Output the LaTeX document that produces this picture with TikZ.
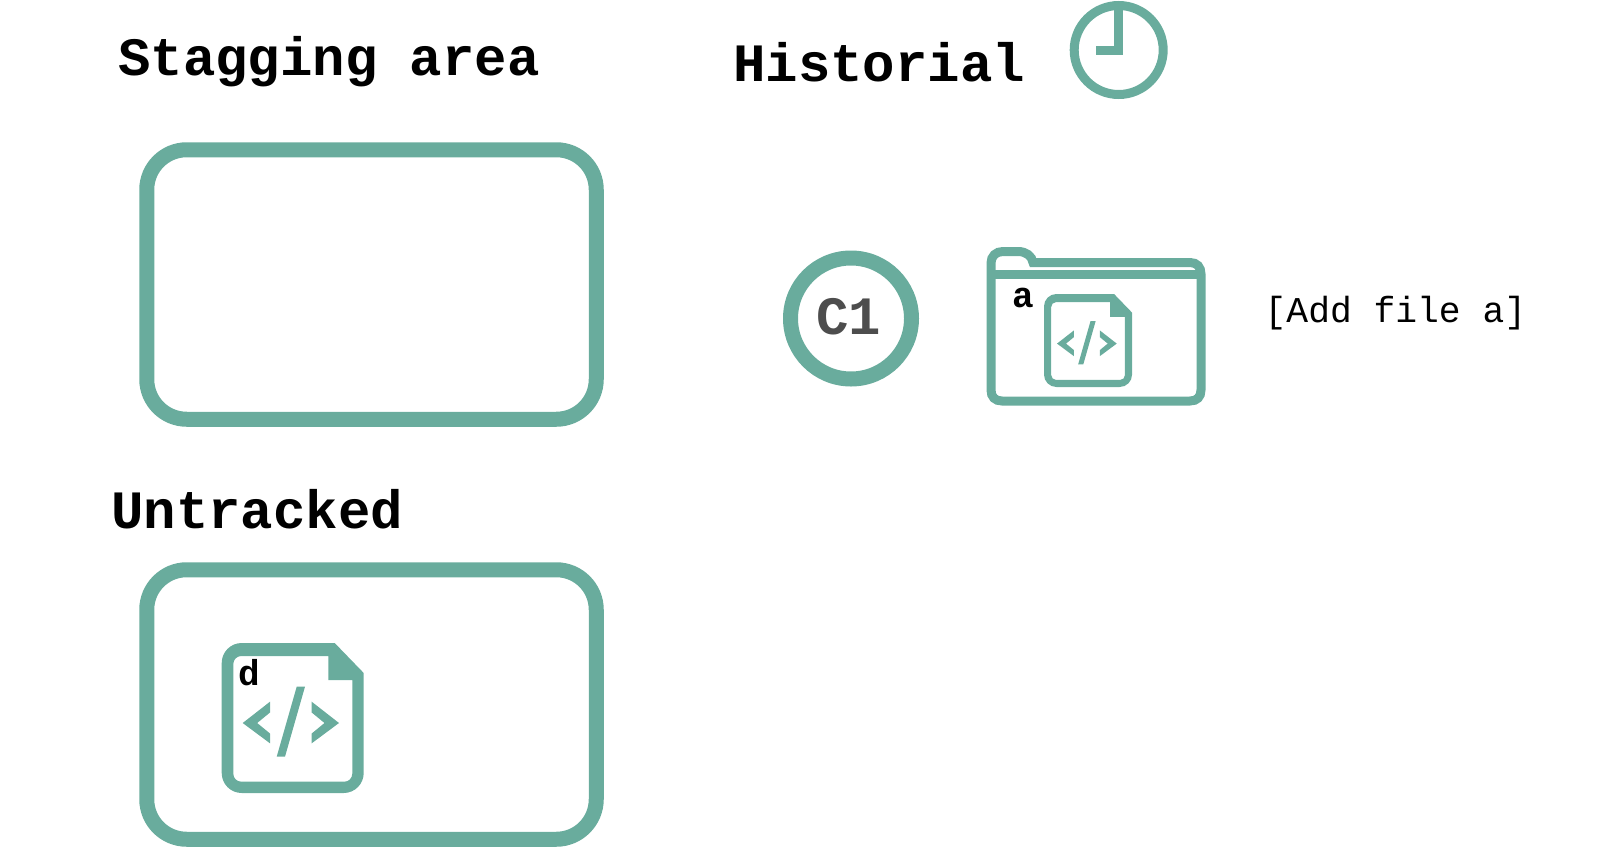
\documentclass[tikz,border=0pt]{standalone}
\usepackage{fontspec}
\setmonofont{Liberation Mono}
\usepackage{xcolor}
\usetikzlibrary{positioning}
\definecolor{gitgreen}{HTML}{69AC9D}
\definecolor{commitgray}{HTML}{4D4D4D}

\tikzset{
  areabox/.style={draw=gitgreen, line width=15pt, rounded corners=40pt, minimum width=449.5pt, minimum height=269.5pt, inner sep=0pt},
  titletext/.style={anchor=base west, inner sep=0pt, font=\fontsize{54}{54}\ttfamily\bfseries},
  filelabel/.style={anchor=base west, inner sep=0pt, font=\fontsize{36}{36}\ttfamily\bfseries},
  pics/codefile/.style={code={
    % outline with the folded corner, the hole cut by even odd
    \fill[gitgreen, even odd rule, rounded corners=#1*20pt]
      (0,0) [sharp corners] -- (113,0) -- (142,30) [rounded corners=#1*20pt] -- (142,150) -- (0,150) -- cycle
      (11.6,13) [sharp corners] -- (106.6,13) -- (106.6,37) -- (130.6,37) [rounded corners=#1*8pt] -- (130.6,138.7) -- (11.6,138.7) -- cycle;
    % the code mark
    \fill[gitgreen] (48.3,58.7) -- (21,80) -- (48.3,100.3) -- (48.3,90.5) -- (35.5,80) -- (48.3,69.5) -- cycle;
    \fill[gitgreen] (75,43.7) -- (83.3,43.7) -- (63.3,113.7) -- (55,113.7) -- cycle;
    \fill[gitgreen] (90,58.7) -- (117.3,80) -- (90,100.3) -- (90,90.5) -- (102.8,80) -- (90,69.5) -- cycle;
  }}
}

\begin{document}
\begin{tikzpicture}[x=1pt, y=-1pt]
  \useasboundingbox (0,0) rectangle (1623,849);

  % left column
  \node[titletext] (staggingtitle) at (118,75.5) {Stagging area};
  \node[areabox] (staggingbox) at (371.5,284.5) {};
  \node[titletext] (untrackedtitle) at (111,528) {Untracked};
  \node[areabox] (untrackedbox) at (371.5,704.5) {};
  \pic[scale=1] at (221.7,643) {codefile={1}};
  \node[filelabel] (filed) at (238,685) {d};

  % history
  \node[titletext] (historialtitle) at (733,81) {Historial};
  \node[circle, draw=gitgreen, line width=9pt, minimum size=89pt, inner sep=0pt] (clockface) at (1118.7,50) {};
  \coordinate (clocktop) at (1118.5,8);
  \coordinate (clockmid) at (1118.5,50.5);
  \coordinate (clockleft) at (1096,50.5);
  \draw[gitgreen, line width=9pt, miter limit=4] (clocktop) -- (clockmid) -- (clockleft);

  \node[circle, draw=gitgreen, line width=15pt, minimum size=121pt, inner sep=0pt] (commit) at (851,318.5) {};
  \node[inner sep=0pt, text=commitgray, font=\fontsize{54}{54}\ttfamily\bfseries] (commitname) at (848.5,317) {C1};

  % folder
  \draw[gitgreen, line width=9pt]
    (991,274.5) -- (991,263) .. controls (991,256) and (996,251.5) .. (1003,251.5) -- (1018,251.5)
    .. controls (1026,251.5) and (1032,256) .. (1033,262.5) -- (1190,262.5)
    .. controls (1197,262.5) and (1201,267) .. (1201,274) -- (1201,390)
    .. controls (1201,397) and (1197,401) .. (1190,401) -- (1002,401)
    .. controls (995,401) and (991,397) .. (991,390) -- cycle;
  \draw[gitgreen, line width=9pt] (991,274.5) -- (1201,274.5);
  \pic[scale=.62] at (1044,294) {codefile={.62}};
  \node[filelabel] (filea) at (1012,307) {a};
  \node[anchor=base west, inner sep=0pt, font=\fontsize{36.3}{36.3}\ttfamily] (commitmsg) at (1264.5,322) {[Add file a]};
\end{tikzpicture}
\end{document}
